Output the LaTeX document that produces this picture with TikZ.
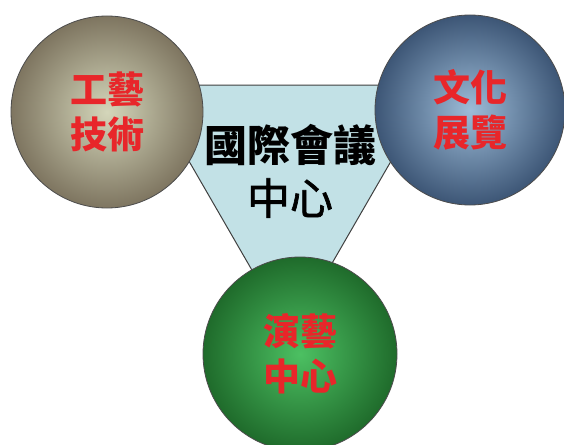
\documentclass[tikz,border=0pt]{standalone}
\usepackage{fontspec}
\newfontfamily\cjk{Noto Sans CJK TC}
\newfontfamily\cjkmid[FakeBold=1.6]{Noto Sans CJK TC}
\definecolor{craftin}{HTML}{D4D6BA}
\definecolor{craftout}{HTML}{7E7560}
\definecolor{cultin}{HTML}{9DBCD8}
\definecolor{cultout}{HTML}{3D5676}
\definecolor{showin}{HTML}{4CC062}
\definecolor{showout}{HTML}{1F6B2B}
\definecolor{hallblue}{HTML}{C2E1E6}
\definecolor{ballred}{HTML}{E8262A}
\tikzset{
  ball/.style={circle, draw=black!70, line width=0.8pt, minimum size=#1,
    inner sep=0pt, align=center, text=ballred,
    font={\cjk\bfseries\fontsize{37}{45}\selectfont}},
  hall/.style={fill=hallblue, draw=black!75, line width=1pt}
}
\begin{document}
\begin{tikzpicture}[x=1pt, y=-1pt]
\useasboundingbox (0,0) rectangle (564,444);
\coordinate (TL) at (145,85);
\coordinate (TR) at (435,85);
\coordinate (TB) at (290,336);
\draw[hall] (TL) -- (TR) -- (TB) -- cycle;
\node[ball=192pt, shading=radial, inner color=craftin, outer color=craftout] (craft) at (107,112) {工藝\\技術};
\node[ball=190pt, shading=radial, inner color=cultin, outer color=cultout] (culture) at (470,110) {文化\\展覽};
\node[ball=194pt, shading=radial, inner color=showin, outer color=showout] (show) at (300,354) {演藝\\中心};
\node[align=center, font={\fontsize{43}{53}\selectfont}] (centre) at (290,171) {{\cjk\bfseries 國際會議}\\{\cjkmid 中心}};
\end{tikzpicture}
\end{document}
